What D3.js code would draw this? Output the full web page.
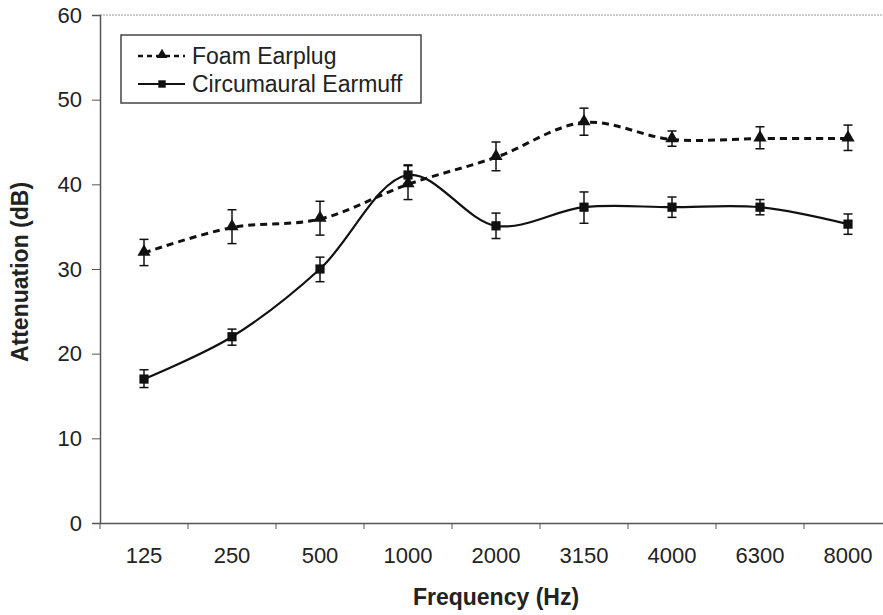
<!DOCTYPE html>
<html>
<head>
<meta charset="utf-8">
<script src="https://cdn.jsdelivr.net/npm/d3@7"></script>
<style>
  body { margin: 0; background: #fff; }
  text { font-family: "Liberation Sans", Arial, sans-serif; fill: #222; }
</style>
</head>
<body>
<div class="canvas"></div>
<script>
// data
const frequencies = ['125', '250', '500', '1000', '2000', '3150', '4000', '6300', '8000'];
const foamMean = [31.9, 34.9, 35.9, 40.0, 43.2, 47.3, 45.3, 45.4, 45.4];
const foamLow  = [30.4, 33.0, 34.0, 38.2, 41.6, 45.8, 44.5, 44.2, 44.0];
const foamHigh = [33.5, 37.0, 38.0, 42.2, 45.0, 49.0, 46.3, 46.8, 47.0];
const muffMean = [17.0, 22.0, 30.0, 41.1, 35.1, 37.3, 37.3, 37.3, 35.3];
const muffLow  = [16.0, 21.0, 28.5, 40.1, 33.6, 35.4, 36.1, 36.4, 34.1];
const muffHigh = [18.1, 22.9, 31.4, 42.3, 36.6, 39.1, 38.5, 38.2, 36.5];
const yTicks = [0, 10, 20, 30, 40, 50, 60];
const seriesNames = ['Foam Earplug', 'Circumaural Earmuff'];

const width = 883, height = 615;
const margin = { top: 15, right: -9, bottom: 92, left: 100 };

const svg = d3.select('.canvas')
  .append('svg')
  .attr('width', width)
  .attr('height', height);

const x = d3.scaleBand().domain(frequencies).range([margin.left, width - margin.right]);
const y = d3.scaleLinear().domain([0, 60]).range([height - margin.bottom, margin.top]);

const foam = frequencies.map((f, i) => ({ f, v: foamMean[i], lo: foamLow[i], hi: foamHigh[i] }));
const muff = frequencies.map((f, i) => ({ f, v: muffMean[i], lo: muffLow[i], hi: muffHigh[i] }));
const cx = d => x(d.f) + x.bandwidth() / 2;

// top border of plot area
svg.append('line')
  .attr('x1', margin.left).attr('x2', width)
  .attr('y1', y(60)).attr('y2', y(60))
  .attr('stroke', '#999').attr('stroke-width', 1.2)
  .attr('stroke-dasharray', '2,1');

// y axis
const yAxis = d3.axisLeft(y).tickValues(yTicks).tickSize(8).tickPadding(10);
const yAxisGroup = svg.append('g')
  .attr('transform', `translate(${margin.left},0)`)
  .call(yAxis);
yAxisGroup.select('.domain').attr('stroke', '#555').attr('stroke-width', 1.5);
yAxisGroup.selectAll('.tick line').attr('stroke', '#555');
yAxisGroup.selectAll('text').style('font-size', '22px').attr('fill', '#222');

// x axis: labels centred, ticks between categories
const xAxis = d3.axisBottom(x).tickSize(0).tickPadding(24);
const xAxisGroup = svg.append('g')
  .attr('transform', `translate(0,${y(0)})`)
  .call(xAxis);
xAxisGroup.select('.domain').attr('stroke', '#555').attr('stroke-width', 1.5);
xAxisGroup.selectAll('text').style('font-size', '22px').attr('fill', '#222');
xAxisGroup.selectAll('.between')
  .data(frequencies)
  .enter().append('line')
  .attr('x1', d => x(d)).attr('x2', d => x(d))
  .attr('y1', 0).attr('y2', 6)
  .attr('stroke', '#555');

// axis titles
svg.append('text')
  .attr('x', (margin.left + width - margin.right) / 2)
  .attr('y', 605)
  .attr('text-anchor', 'middle')
  .style('font-size', '23px').style('font-weight', 'bold')
  .text('Frequency (Hz)');

svg.append('text')
  .attr('transform', 'translate(28,272) rotate(-90)')
  .attr('text-anchor', 'middle')
  .style('font-size', '23px').style('font-weight', 'bold')
  .text('Attenuation (dB)');

const line = d3.line()
  .curve(d3.curveCatmullRom.alpha(0.5))
  .x(cx)
  .y(d => y(d.v));

const graph = svg.append('g');

// error bars
function errorBars(data) {
  const g = graph.append('g').attr('stroke', '#111').attr('stroke-width', 1.5);
  g.selectAll('.v').data(data).enter().append('line')
    .attr('x1', cx).attr('x2', cx)
    .attr('y1', d => y(d.lo)).attr('y2', d => y(d.hi));
  g.selectAll('.t').data(data).enter().append('line')
    .attr('x1', d => cx(d) - 4.5).attr('x2', d => cx(d) + 4.5)
    .attr('y1', d => y(d.hi)).attr('y2', d => y(d.hi));
  g.selectAll('.b').data(data).enter().append('line')
    .attr('x1', d => cx(d) - 4.5).attr('x2', d => cx(d) + 4.5)
    .attr('y1', d => y(d.lo)).attr('y2', d => y(d.lo));
}
errorBars(foam);
errorBars(muff);

graph.append('path')
  .datum(muff)
  .attr('fill', 'none')
  .attr('stroke', '#111')
  .attr('stroke-width', 2.2)
  .attr('d', line);

graph.append('path')
  .datum(foam)
  .attr('fill', 'none')
  .attr('stroke', '#111')
  .attr('stroke-width', 3)
  .attr('stroke-dasharray', '7,5')
  .attr('d', line);

const triangle = d3.symbol().type(d3.symbolTriangle).size(75);
const square = d3.symbol().type(d3.symbolSquare).size(85);

graph.selectAll('.tri').data(foam).enter().append('path')
  .attr('d', triangle)
  .attr('transform', d => `translate(${cx(d)},${y(d.v) - 1})`)
  .attr('fill', '#111');

graph.selectAll('.sq').data(muff).enter().append('path')
  .attr('d', square)
  .attr('transform', d => `translate(${cx(d)},${y(d.v)})`)
  .attr('fill', '#111');

// legend
const legend = svg.append('g').attr('transform', 'translate(121,35)');
legend.append('rect')
  .attr('width', 300).attr('height', 68)
  .attr('fill', '#fff').attr('stroke', '#444').attr('stroke-width', 1.5);

const rows = [
  { name: seriesNames[0], dash: '5,4', sw: 2.5, sym: d3.symbol().type(d3.symbolTriangle).size(50) },
  { name: seriesNames[1], dash: null, sw: 2, sym: d3.symbol().type(d3.symbolSquare).size(55) }
];
rows.forEach((r, i) => {
  const yy = 21 + i * 28;
  legend.append('line')
    .attr('x1', 17).attr('x2', 64).attr('y1', yy).attr('y2', yy)
    .attr('stroke', '#111').attr('stroke-width', r.sw)
    .attr('stroke-dasharray', r.dash);
  legend.append('path')
    .attr('d', r.sym)
    .attr('transform', `translate(41,${yy - (i === 0 ? 1 : 0)})`)
    .attr('fill', '#111');
  legend.append('text')
    .attr('x', 71).attr('y', yy + 8)
    .style('font-size', '23px')
    .text(r.name);
});
</script>
</body>
</html>
